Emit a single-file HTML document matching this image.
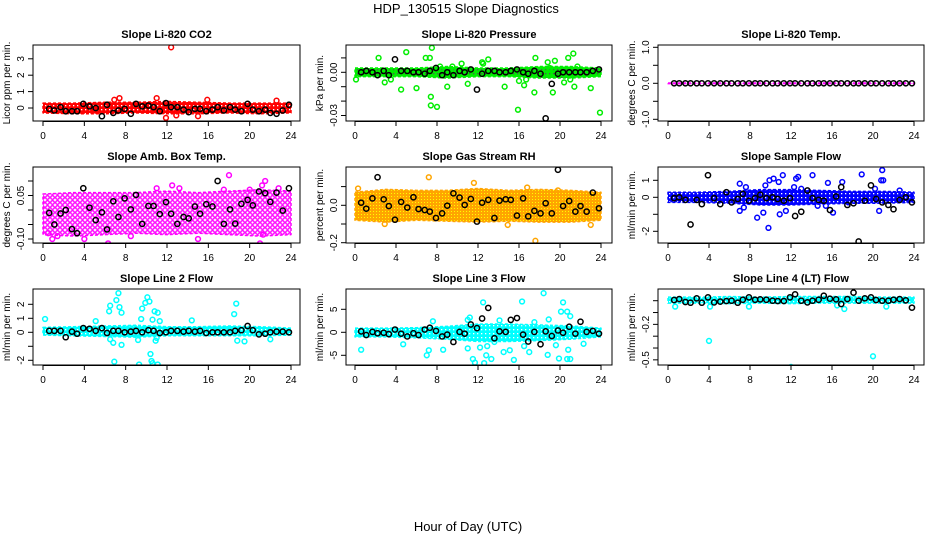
<!DOCTYPE html>
<html><head><meta charset="utf-8"><style>
body{margin:0;background:#fff}
svg{display:block;font-family:"Liberation Sans",sans-serif}
</style></head><body>
<svg id="chart" width="936" height="540" viewBox="0 0 936 540">
<defs>
<pattern id="pat-red" width="4" height="4" patternUnits="userSpaceOnUse"><rect width="4" height="4" fill="#ff0000"/><rect x="1" y="1" width="1.3" height="1.3" fill="#fff"/></pattern>
<pattern id="pat-green" width="4" height="4" patternUnits="userSpaceOnUse"><rect width="4" height="4" fill="#00ee00"/><rect x="1" y="1" width="1.3" height="1.3" fill="#555"/></pattern>
<pattern id="pat-magenta" width="5" height="5" patternUnits="userSpaceOnUse"><rect width="5" height="5" fill="#fff"/><circle cx="2.5" cy="2.5" r="1.8" fill="none" stroke="#ff00ff" stroke-width="1.4"/></pattern>
<pattern id="pat-orange" width="3" height="3" patternUnits="userSpaceOnUse"><rect width="3" height="3" fill="#ffa500"/><rect x="1" y="1" width="1" height="1" fill="#ffff00"/></pattern>
<pattern id="pat-blue" width="4" height="4" patternUnits="userSpaceOnUse"><rect width="4" height="4" fill="#0000ff"/><rect x="1" y="1" width="1.3" height="1.3" fill="#fff"/></pattern>
<pattern id="pat-cyan" width="4" height="4" patternUnits="userSpaceOnUse"><rect width="4" height="4" fill="#00ffff"/><rect x="1" y="1" width="1.3" height="1.3" fill="#fff"/></pattern>
</defs>
<text x="466" y="13" font-size="13" text-anchor="middle">HDP_130515  Slope Diagnostics</text>
<text x="468" y="531" font-size="13" text-anchor="middle">Hour of Day (UTC)</text>
</svg>
<script>
const avgHours=[0.6,1.1,1.7,2.2,2.8,3.3,3.9,4.5,5.1,5.7,6.2,6.8,7.3,7.9,8.5,9.0,9.6,10.2,10.7,11.3,11.9,12.4,13.0,13.6,14.1,14.7,15.2,15.8,16.4,16.9,17.5,18.1,18.6,19.2,19.8,20.3,20.9,21.5,22.0,22.6,23.2,23.8];
const bandHours=[0,3,6,9,12,15,18,21,24];
const xTicks=[0,4,8,12,16,20,24];

const co2Avg=[-0.05,-0.15,0.05,-0.2,-0.2,-0.2,0.25,0.1,0,-0.5,0.2,-0.3,-0.15,-0.05,-0.35,0.25,0.1,0.15,0.05,-0.2,0.3,0.05,0.05,-0.1,-0.25,-0.05,-0.05,-0.2,-0.1,0.05,-0.15,0.05,-0.1,-0.2,0.25,-0.1,-0.2,-0.1,-0.3,-0.35,-0.15,0.2];
const co2Lo=[-0.3,-0.35,-0.35,-0.3,-0.35,-0.35,-0.3,-0.35,-0.3];
const co2Hi=[0.3,0.3,0.35,0.35,0.4,0.35,0.3,0.3,0.3];
const co2OutX=[12.4,11.9,7.4,11,15.9,12.9,22.6,6.9,15];
const co2OutY=[3.7,-0.6,0.6,0.6,0.5,-0.45,0.45,0.5,-0.5];

const presAvg=[0,0.001,0,-0.002,0.001,-0.002,0.009,0.001,0.001,0,0,-0.001,0.001,0.003,-0.002,0,-0.002,0.001,0,0.002,-0.012,-0.001,0.001,0.001,0,0,0.001,0.002,0,-0.001,0.001,-0.001,-0.032,-0.008,-0.001,0,0,0,0,0,0.001,0.002];
const presLo=[-0.003,-0.003,-0.003,-0.004,-0.003,-0.003,-0.004,-0.004,-0.003];
const presHi=[0.003,0.003,0.003,0.004,0.003,0.003,0.004,0.004,0.003];
const presOutX=[2.3,5,7.5,7.3,7.4,8,7.4,15.9,23.9,17.5,19.3,20.4,19.5,20.8,21.3,17.6,13,4.5,6,9,2.9,11,14.6,16.5,18.8,21.4,23,12.4,10.4,16,6.9,8.3,21.7,19,16.7,21,9.5,3.5,0.1,12.5];
const presOutY=[0.01,0.014,0.017,0.01,-0.023,-0.024,-0.017,-0.026,-0.028,-0.014,-0.014,-0.007,0.008,0.01,0.013,0.01,0.009,-0.012,-0.011,-0.01,-0.007,-0.008,-0.01,-0.009,0.007,-0.01,-0.011,0.007,0.006,-0.006,0.01,0.004,0.004,0.003,-0.005,-0.005,0.004,-0.005,-0.005,0.006];

const tempAvg=avgHours.map(()=>0);
const tempLo=[-0.01,-0.01,-0.01,-0.01,-0.01,-0.01,-0.01,-0.01,-0.01];
const tempHi=[0.01,0.01,0.01,0.01,0.01,0.01,0.01,0.01,0.01];
const tempOutX=[];const tempOutY=[];

const ambAvg=[-0.01,-0.05,-0.012,0,-0.066,-0.08,0.075,0.008,-0.035,-0.008,-0.067,0.03,-0.024,0.04,0.002,0.052,-0.048,0.014,0.014,-0.014,0.027,-0.013,-0.048,-0.024,-0.029,0.012,-0.013,0.02,0.012,0.1,-0.048,0.002,-0.047,0.021,0.035,0.016,0.064,0.058,0.028,0.06,-0.002,0.075];
const ambLo=[-0.085,-0.09,-0.085,-0.08,-0.085,-0.08,-0.085,-0.09,-0.085];
const ambHi=[0.055,0.06,0.06,0.06,0.065,0.06,0.065,0.07,0.065];
const ambOutX=[18,21.5,21.2,12.5,6.3,21,15,4,0.9,21.3,20,17.5,11,1.4,8.5,13.2,22.8,0.5];
const ambOutY=[0.12,0.1,0.085,0.085,-0.115,-0.115,-0.1,-0.1,-0.1,-0.085,0.07,0.07,0.075,-0.09,-0.09,0.075,0.075,-0.08];

const rhAvg=[0.014,-0.018,0.037,0.15,0.032,-0.004,-0.077,0.018,-0.012,0.043,-0.02,-0.025,-0.034,-0.068,-0.043,-0.002,0.064,0.041,0.002,0.034,-0.087,0.014,0.029,-0.068,0.025,0.032,0.029,-0.055,0.037,-0.059,-0.03,-0.043,0.011,-0.043,0.19,-0.004,0.023,-0.034,-0.004,-0.034,0.068,-0.016];
const rhLo=[-0.08,-0.09,-0.08,-0.085,-0.09,-0.085,-0.09,-0.09,-0.08];
const rhHi=[0.07,0.085,0.08,0.08,0.09,0.08,0.085,0.08,0.07];
const rhOutX=[7.2,17.6,2.9,11.6,0.3,16.8,14.9,23,19.8,3.9];
const rhOutY=[0.15,-0.19,-0.1,0.12,0.09,0.095,-0.105,-0.105,0.08,0.03];

const sfAvg=[-0.05,0,-0.15,-1.6,-0.15,-0.4,1.3,-0.05,-0.4,0.3,-0.3,-0.1,0.2,-0.2,-0.05,0.15,-0.05,0,-0.1,-0.2,-0.05,-1.1,-0.85,0.4,-0.05,-0.15,-0.2,-0.75,0.05,0.6,-0.45,-0.35,-2.6,-0.2,0.7,-0.1,-0.3,-0.45,-0.7,-0.15,0,-0.3];
const sfLo=[-0.3,-0.3,-0.35,-0.45,-0.45,-0.4,-0.35,-0.35,-0.3];
const sfHi=[0.3,0.3,0.35,0.45,0.45,0.4,0.35,0.35,0.3];
const sfOutX=[7,7.6,9.9,10.3,10.8,11.2,12.7,12.5,14.1,15.6,17,18.9,20.8,21,20.9,20.2,9.8,8.7,9.3,10.9,11.5,7,7.4,16.1,20.6,14.6,22.6,17.6,9.5,12.3,13,15.4];
const sfOutY=[0.8,0.6,1.0,1.1,0.9,1.3,1.2,1.1,1.3,0.85,0.9,1.35,1.0,1.0,1.6,0.5,-1.8,-1.2,-0.9,-1.0,-0.8,-0.8,-0.6,-0.9,-0.8,-0.5,0.4,-0.3,0.7,0.6,0.5,-0.5];

const l2Avg=[0.1,0.1,0.1,-0.35,0.05,-0.1,0.3,0.25,0.1,0.3,-0.05,0.1,0.1,0,0.05,0.1,0,0.15,0.1,-0.05,0,0.1,0.1,0.05,0.1,0.05,0.1,-0.05,0,0,0,0,0.1,0.15,0.45,0.15,-0.15,-0.1,0,0.05,0.05,0];
const l2Lo=[-0.2,-0.25,-0.3,-0.35,-0.25,-0.25,-0.25,-0.25,-0.2];
const l2Hi=[0.35,0.4,0.45,0.5,0.4,0.4,0.45,0.4,0.3];
const l2OutX=[7.3,7.1,6.5,6.4,7.4,7.6,9.6,9.9,10.1,10.3,10.8,11.1,9.5,10.6,11.3,7.6,6.8,9.2,11,6.9,9.3,10.4,10.6,11.1,10.5,18.5,18.7,18.8,19.5,22,0.2,14.4,5.1,10.9,6.5];
const l2OutY=[2.8,2.3,1.9,1.5,1.8,1.4,1.7,2.1,2.5,2.2,1.5,1.4,0.95,0.9,0.8,-0.9,-0.75,-0.55,-0.4,-2.1,-2.3,-1.55,-2.2,-2.3,-2.05,1.3,2.05,-0.6,-0.65,-0.5,0.95,0.85,0.8,-0.6,-0.5];

const l3Avg=[0.2,-0.6,0.1,-0.2,-0.1,-0.4,0.6,-0.3,-0.9,-0.2,-0.6,0.6,1.0,0.3,-0.9,-0.5,-2.1,0.1,-0.3,1.7,0.9,3.0,5.3,-1.3,0.2,0.1,2.7,3.1,-0.5,-2.0,0.1,-2.6,0.2,-0.8,0.4,-0.1,1.2,-0.3,2.3,0.1,0.3,-0.3];
const l3Lo=[-1.0,-1.0,-1.2,-1.5,-2.0,-2.0,-1.8,-1.5,-1.0];
const l3Hi=[0.9,0.9,1.0,1.3,1.8,1.8,1.6,1.4,0.9];
const l3OutX=[12.5,16.3,18.4,20.3,20.1,20.7,21,11.2,11,14.1,17.5,18.9,7.6,0.6,7.2,7,4.7,8.6,11.5,11.7,12.6,12.8,13.3,12.9,12.2,14.5,15.1,15.5,16.5,17,18.8,19.9,20.7,21,20.8,22.3,19.6,11,13.6];
const l3OutY=[6.5,6.7,8.5,6.5,4.5,4.5,3.5,3.2,2.7,2.6,2.2,2.8,2.4,-3.8,-3.9,-5,-2.6,-3.8,-5.8,-6.6,-6.7,-5,-5.8,-3,-3.3,-4.3,-3.9,-6,-3,-4.3,-4.9,-5.7,-5.8,-5.8,-3.8,-2.5,-2.8,-3.5,-2.1];

const l4Avg=[0.006,0.014,-0.011,-0.017,0.02,-0.017,0.028,-0.014,-0.008,-0.003,0,-0.017,0.008,0.028,0.008,0.011,0.008,0,-0.003,-0.003,0.028,0.054,0,-0.014,0,0.008,0.042,0.017,0.011,-0.028,0.014,0.068,0,0.02,0.028,0.006,0,0,0.008,0.014,0.003,-0.059];
const l4Lo=[-0.02,-0.02,-0.025,-0.02,-0.025,-0.02,-0.02,-0.02,-0.02];
const l4Hi=[0.03,0.03,0.035,0.03,0.035,0.035,0.035,0.03,0.03];
const l4OutX=[4,12,20,17.2,4.1,7.9,21.3,0.7,16.5];
const l4OutY=[-0.34,-0.56,-0.47,-0.07,-0.05,-0.05,-0.05,-0.05,-0.04];

const panels=[
 {name:'co2',title:'Slope Li-820 CO2',ylab:'Licor ppm per min.',col:0,row:0,y0:108,k:16.4,ticks:[0,1,2,3],labels:['0','1','2','3'],avg:co2Avg,lo:co2Lo,hi:co2Hi,ox:co2OutX,oy:co2OutY,color:'#ff0000',pat:'pat-red'},
 {name:'pressure',title:'Slope Li-820 Pressure',ylab:'kPa per min.',col:1,row:0,y0:72.3,k:1440,ticks:[0.01,0,-0.01,-0.02,-0.03],labels:['','0.00','','','-0.03'],avg:presAvg,lo:presLo,hi:presHi,ox:presOutX,oy:presOutY,color:'#00ee00',pat:'pat-green'},
 {name:'temp',title:'Slope Li-820 Temp.',ylab:'degrees C per min.',col:2,row:0,y0:83.3,k:36,ticks:[1,0.5,0,-0.5,-1],labels:['1.0','','0.0','','-1.0'],avg:tempAvg,lo:tempLo,hi:tempHi,ox:tempOutX,oy:tempOutY,color:'#ff00ff',pat:'pat-magenta'},
 {name:'amb-box-temp',title:'Slope Amb. Box Temp.',ylab:'degrees C per min.',col:0,row:1,y0:210,k:290,ticks:[0.1,0.05,0,-0.05,-0.1],labels:['','0.05','','','-0.10'],avg:ambAvg,lo:ambLo,hi:ambHi,ox:ambOutX,oy:ambOutY,color:'#ff00ff',pat:'pat-magenta'},
 {name:'gas-stream-rh',title:'Slope Gas Stream RH',ylab:'percent per min.',col:1,row:1,y0:205.3,k:187,ticks:[0.1,0,-0.1,-0.2],labels:['','0.0','','-0.2'],avg:rhAvg,lo:rhLo,hi:rhHi,ox:rhOutX,oy:rhOutY,color:'#ffa500',pat:'pat-orange'},
 {name:'sample-flow',title:'Slope Sample Flow',ylab:'ml/min per min.',col:2,row:1,y0:197.3,k:17,ticks:[1,0,-1,-2],labels:['1','0','','-2'],avg:sfAvg,lo:sfLo,hi:sfHi,ox:sfOutX,oy:sfOutY,color:'#0000ff',pat:'pat-blue'},
 {name:'line2-flow',title:'Slope Line 2 Flow',ylab:'ml/min per min.',col:0,row:2,y0:332.3,k:14,ticks:[2,1,0,-1,-2],labels:['2','1','0','','-2'],avg:l2Avg,lo:l2Lo,hi:l2Hi,ox:l2OutX,oy:l2OutY,color:'#00ffff',pat:'pat-cyan'},
 {name:'line3-flow',title:'Slope Line 3 Flow',ylab:'ml/min per min.',col:1,row:2,y0:332.3,k:4.6,ticks:[5,0,-5],labels:['5','0','-5'],avg:l3Avg,lo:l3Lo,hi:l3Hi,ox:l3OutX,oy:l3OutY,color:'#00ffff',pat:'pat-cyan'},
 {name:'line4-flow',title:'Slope Line 4 (LT) Flow',ylab:'ml/min per min.',col:2,row:2,y0:300.7,k:118.3,ticks:[0,-0.1,-0.2,-0.3,-0.4,-0.5],labels:['','','-0.2','','','-0.5'],avg:l4Avg,lo:l4Lo,hi:l4Hi,ox:l4OutX,oy:l4OutY,color:'#00ffff',pat:'pat-cyan'}
];
const colBox=[[33,300,43,291],[346,612,355,601],[658,924,668,914]];
const rowBox=[[45,121],[167,243],[289,365]];
const NS='http://www.w3.org/2000/svg';
const svg=document.getElementById('chart');
function mk(tag,attrs,parent){const e=document.createElementNS(NS,tag);for(const a in attrs)e.setAttribute(a,attrs[a]);(parent||svg).appendChild(e);return e;}

panels.forEach(p=>{
 const [L,R,x0,x24]=colBox[p.col];const [T,B]=rowBox[p.row];
 const xs=h=>x0+(x24-x0)*h/24;
 const ys=v=>p.y0-v*p.k;
 const g=mk('g',{});
 
 
 const cid='clip-'+p.name;
 const cp=mk('clipPath',{id:cid},g);mk('rect',{x:L,y:T,width:R-L,height:B-T},cp);
 const plot=mk('g',{'clip-path':'url(#'+cid+')'},g);
 let pts=[];
 bandHours.forEach((h,i)=>pts.push(xs(h)+','+ys(p.hi[i])));
 for(let i=bandHours.length-1;i>=0;i--)pts.push(xs(bandHours[i])+','+ys(p.lo[i]));
 const band=mk('polygon',{points:pts.join(' '),fill:'url(#'+p.pat+')',stroke:p.color,'stroke-width':1.5,'stroke-dasharray':'3 2','stroke-linejoin':'round'},plot);
 
 
 p.ox.forEach((h,i)=>{
  const c=mk('circle',{cx:xs(h),cy:ys(p.oy[i]),r:2.4,fill:'none',stroke:p.color,'stroke-width':1.5},plot);
  
  
 });
 avgHours.forEach((h,i)=>{
  const c=mk('circle',{cx:xs(h),cy:ys(p.avg[i]),r:2.6,fill:'none',stroke:'#000','stroke-width':1.5},plot);
  
  
 });
 const box=mk('rect',{x:L,y:T,width:R-L,height:B-T,fill:'none',stroke:'#000','stroke-width':1},g);
 
 
 const t=mk('text',{x:(L+R)/2,y:T-7,'font-size':11,'font-weight':'bold','text-anchor':'middle'},g);t.textContent=p.title;
 
 
 xTicks.forEach(v=>{
  mk('line',{x1:xs(v),x2:xs(v),y1:B,y2:B+5,stroke:'#000'},g);
  const tx=mk('text',{x:xs(v),y:B+18,'font-size':10,'text-anchor':'middle'},g);tx.textContent=v;
  
  
 });
 mk('line',{x1:xs(0),x2:xs(24),y1:B+0.5,y2:B+0.5,stroke:'#000'},g);
 p.ticks.forEach((v,i)=>{
  mk('line',{x1:L-5,x2:L,y1:ys(v),y2:ys(v),stroke:'#000'},g);
  if(p.labels[i]){const ty=mk('text',{x:L-9,y:ys(v),'font-size':10,'text-anchor':'middle',transform:'rotate(-90 '+(L-9)+' '+ys(v)+')'},g);ty.textContent=p.labels[i];
  
  }
 });
 mk('line',{x1:L,x2:L,y1:ys(p.ticks[0]),y2:ys(p.ticks[p.ticks.length-1]),stroke:'#000'},g);
 const yl=mk('text',{x:L-23,y:(T+B)/2,'font-size':10,'text-anchor':'middle',transform:'rotate(-90 '+(L-23)+' '+(T+B)/2+')'},g);yl.textContent=p.ylab;
 
 
});
</script>
</body></html>
